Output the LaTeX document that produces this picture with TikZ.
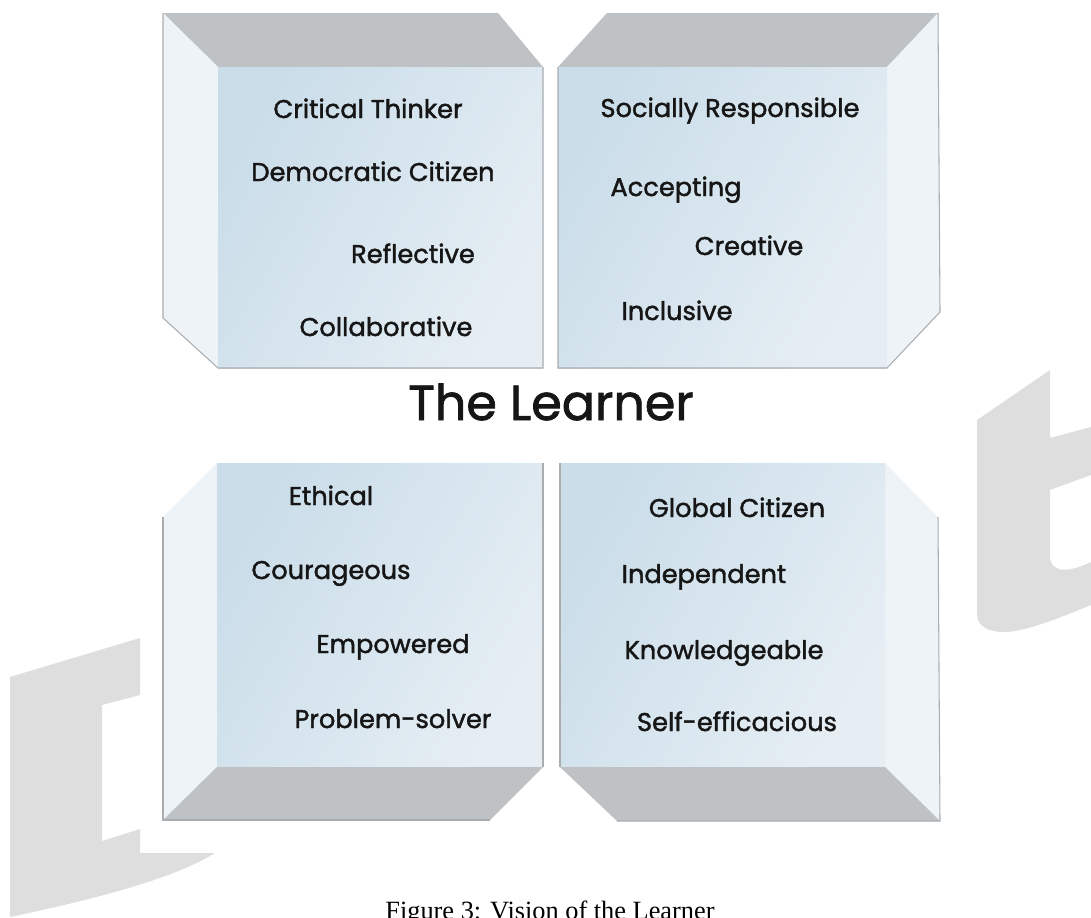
\documentclass[tikz,border=0pt]{standalone}
\usepackage{fontspec}
\setmainfont{Poppins}[FakeBold=1.6]
\newfontfamily\capfont{Liberation Serif}
\definecolor{frontlight}{HTML}{E6EEF4}
\definecolor{frontdark}{HTML}{CADDE9}
\definecolor{sidecol}{HTML}{EDF3F7}
\definecolor{lidcol}{HTML}{BEC2C5}
\definecolor{edgecol}{HTML}{A9ADB0}
\definecolor{markcol}{HTML}{DEDEDE}
\definecolor{inkcol}{HTML}{161616}
\tikzset{
  front/.style={left color=frontdark, right color=frontlight, shading angle=60},
  side/.style={fill=sidecol},
  lid/.style={fill=lidcol},
  edge/.style={draw=edgecol, line width=0.6pt},
  trait/.style={anchor=base, text=inkcol, font=\fontsize{14.6}{17}\selectfont},
}
\begin{document}
\begin{tikzpicture}[x=0.02cm,y=-0.02cm]
        \useasboundingbox (0,0) rectangle (1091,917);

        % watermark letters
        \fill[markcol] (10,677) -- (140,638) -- (140,695) -- (102,705) -- (102,841) -- (140,829) -- (140,853) -- (215,853) .. controls (178,876) and (110,896) .. (10,917) -- cycle;
        \fill[markcol] (977,420) -- (1050,370) -- (1050,438) -- (1091,427) -- (1091,475) -- (1050,490) -- (1050,556) .. controls (1050,572) and (1066,574) .. (1091,562) -- (1091,605) .. controls (1050,622) and (1022,632) .. (1004,632) .. controls (988,632) and (977,626) .. (977,614) -- cycle;

        % top left box
        \fill[lid] (163,13) -- (498,13) -- (543,67) -- (218,67) -- cycle;
        \fill[side] (163,13) -- (218,67) -- (218,368) -- (163,318) -- cycle;
        \shade[front] (218,67) rectangle (543,368);
        \draw[edge] (163,13) -- (163,318) -- (218,368) -- (543,368) -- (543,67);

        % top right box
        \fill[lid] (607,13) -- (938,13) -- (887,67) -- (558,67) -- cycle;
        \fill[side] (887,67) -- (938,13) -- (940,312) -- (887,367) -- cycle;
        \shade[front] (558,67) rectangle (887,368);
        \draw[edge] (558,67) -- (558,368) -- (887,368) -- (940,312) -- (938,13);

        % bottom left box
        \fill[side] (163,517) -- (217,463) -- (217,767) -- (163,820) -- cycle;
        \shade[front] (217,463) rectangle (543,767);
        \fill[lid] (217,767) -- (543,767) -- (490,820) -- (163,820) -- cycle;
        \draw[edge] (543,463) -- (543,767);
        \draw[edge] (163,517) -- (163,820) -- (490,820);

        % bottom right box
        \fill[side] (885,463) -- (938,517) -- (940,821) -- (885,767) -- cycle;
        \shade[front] (560,463) rectangle (885,767);
        \fill[lid] (560,767) -- (885,767) -- (940,821) -- (617,821) -- cycle;
        \draw[edge] (560,463) -- (560,767);
        \draw[edge] (617,821) -- (940,821) -- (938,517);

        \node[trait] (critical) at (368,118) {Critical Thinker};
        \node[trait] (democratic) at (373,181) {Democratic Citizen};
        \node[trait] (reflective) at (413,263) {Reflective};
        \node[trait] (collaborative) at (386,336) {Collaborative};

        \node[trait] (socially) at (730,117) {Socially Responsible};
        \node[trait] (accepting) at (676,196) {Accepting};
        \node[trait] (creative) at (749,255) {Creative};
        \node[trait] (inclusive) at (677,320) {Inclusive};

        \node[trait] (ethical) at (331,505) {Ethical};
        \node[trait] (courageous) at (331,579) {Courageous};
        \node[trait] (empowered) at (393,653) {Empowered};
        \node[trait] (problem) at (393,728) {Problem-solver};

        \node[trait] (global) at (737,517) {Global Citizen};
        \node[trait] (independent) at (704,583) {Independent};
        \node[trait] (knowledge) at (724,659) {Knowledgeable};
        \node[trait] (selfeff) at (737,731) {Self-efficacious};

        \node[anchor=base, text=inkcol, font=\fontsize{28}{33}\selectfont] (learner) at (551,420) {The Learner};
        \node[anchor=base west, inner sep=0pt, font=\capfont\fontsize{15}{18}\selectfont] (caption) at (385,919) {Figure 3: Vision of the Learner};
\end{tikzpicture}
\end{document}
